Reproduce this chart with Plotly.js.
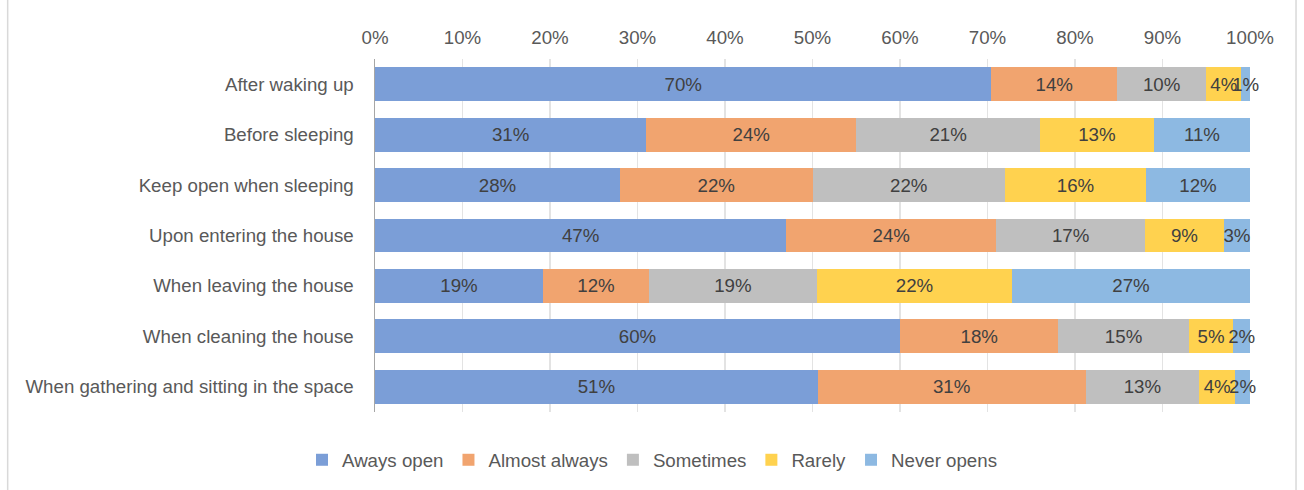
<!DOCTYPE html>
<html>
<head>
<meta charset="utf-8">
<script src="https://cdn.plot.ly/plotly-3.0.1.min.js"></script>
<style>html,body{margin:0;padding:0;background:#fff;}#chart{width:1304px;height:490px;}</style>
</head>
<body>
<div id="chart"></div>
<script>
const categories = [
  "After waking up",
  "Before sleeping",
  "Keep open when sleeping",
  "Upon entering the house",
  "When leaving the house",
  "When cleaning the house",
  "When gathering and sitting in the space"
];
const seriesNames = ["Aways open", "Almost always", "Sometimes", "Rarely", "Never opens"];
const awaysOpen     = [70.45, 31.0, 28.0, 47.0, 19.2, 60.0, 50.6];
const almostAlways  = [14.35, 24.0, 22.0, 24.0, 12.1, 18.1, 30.6];
const sometimes     = [10.2, 21.0, 22.0, 17.0, 19.2, 14.9, 13.0];
const rarely        = [ 4.0, 13.0, 16.1,  9.0, 22.3,  5.1,  4.1];
const neverOpens    = [ 1.0, 11.0, 11.9,  3.0, 27.2,  1.9,  1.7];
const colors = ["#7B9ED7", "#F1A46F", "#BFBFBF", "#FFD24F", "#8DB9E2"];

const seriesValues = [awaysOpen, almostAlways, sometimes, rarely, neverOpens];
const font = "Liberation Sans, Arial, sans-serif";
const fs = 18.7;

const traces = seriesValues.map((vals, i) => ({
  type: "bar",
  orientation: "h",
  name: seriesNames[i],
  y: categories,
  x: vals,
  marker: {color: colors[i], line: {width: 0}},
  texttemplate: "%{x:.0f}%",
  textposition: "inside",
  insidetextanchor: "middle",
  textangle: 0,
  constraintext: "none",
  cliponaxis: false,
  textfont: {family: font, size: fs, color: "#404040"},
  hoverinfo: "skip"
}));

const layout = {
  width: 1304,
  height: 490,
  barmode: "stack",
  bargap: 0.327,
  margin: {l: 375, r: 54, t: 59, b: 78},
  paper_bgcolor: "#ffffff",
  plot_bgcolor: "#ffffff",
  font: {family: font, size: fs, color: "#595959"},
  showlegend: true,
  xaxis: {
    side: "top",
    range: [0, 100],
    dtick: 10,
    tick0: 0,
    ticksuffix: "%",
    showgrid: true,
    gridcolor: "rgba(200,200,200,0.5)",
    gridwidth: 1.5,
    zeroline: false,
    showline: false,
    ticks: "",
    ticklabelstandoff: 10,
    layer: "above traces",
    tickfont: {family: font, size: fs, color: "#595959"},
    fixedrange: true
  },
  yaxis: {
    autorange: "reversed",
    showline: true,
    linecolor: "#A6A6A6",
    linewidth: 1.5,
    showgrid: false,
    zeroline: false,
    ticks: "",
    ticklabelstandoff: 16,
    tickfont: {family: font, size: fs, color: "#595959"},
    fixedrange: true
  },
  legend: {
    orientation: "h",
    xref: "container",
    yref: "container",
    x: 0.5,
    xanchor: "center",
    y: 0.061,
    yanchor: "middle",
    font: {family: font, size: fs, color: "#595959"},
    traceorder: "normal",
    itemwidth: 30,
    itemclick: false
  },
  shapes: [
    {type: "line", xref: "paper", yref: "paper", x0: -0.4198, x1: -0.4198, y0: -0.3, y1: 1.2, line: {color: "#D9D9D9", width: 1.5}},
    {type: "line", xref: "paper", yref: "paper", x0: 1.0526, x1: 1.0526, y0: -0.3, y1: 1.2, line: {color: "#D9D9D9", width: 1.5}}
  ]
};

Plotly.newPlot("chart", traces, layout, {displayModeBar: false, staticPlot: true});
</script>
</body>
</html>
